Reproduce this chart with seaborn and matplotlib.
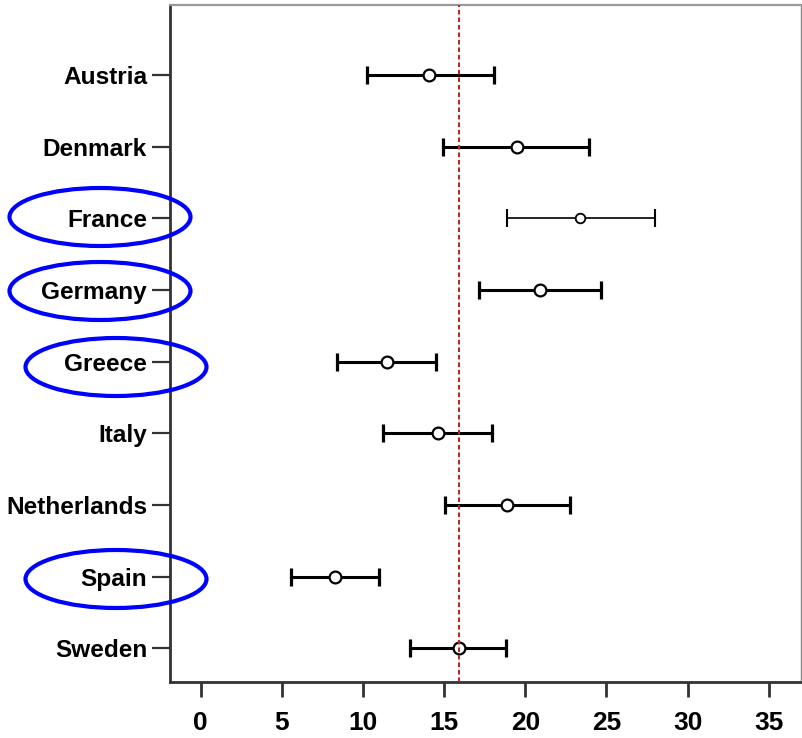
import numpy as np
import pandas as pd
import matplotlib
matplotlib.use("Agg")
import matplotlib.pyplot as plt
from matplotlib.patches import Ellipse
from matplotlib.transforms import IdentityTransform
from matplotlib import font_manager
import seaborn as sns

# dados
paises = ["Austria", "Denmark", "France", "Germany", "Greece",
          "Italy", "Netherlands", "Spain", "Sweden"]
media = [14.1, 19.5, 23.4, 20.9, 11.5, 14.6, 18.9, 8.3, 15.9]
inferior = [10.25, 14.95, 18.85, 17.15, 8.4, 11.25, 15.05, 5.6, 12.9]
superior = [18.1, 23.95, 28.0, 24.65, 14.5, 17.95, 22.75, 11.0, 18.8]
linha_ref = 15.9
destacados = ["France", "Germany", "Greece", "Spain"]

dados = pd.DataFrame({"pais": paises, "media": media,
                      "inf": inferior, "sup": superior})
dados["pos"] = np.arange(len(dados))

sns.set_style("white")
nomes = {f.name for f in font_manager.fontManager.ttflist}
plt.rcParams["font.family"] = ["Liberation Sans", "DejaVu Sans"]
fonte_x = "Liberation Sans Narrow" if "Liberation Sans Narrow" in nomes else "Liberation Sans"

fig = plt.figure(figsize=(8.02, 7.38), dpi=100)
ax = fig.add_axes([170 / 802, 56 / 738, 631 / 802, 677 / 738])

# barras de erro (France mais fina)
for _, r in dados.iterrows():
    fino = r["pais"] == "France"
    ax.errorbar(r["media"], r["pos"],
                xerr=[[r["media"] - r["inf"]], [r["sup"] - r["media"]]],
                fmt="none", ecolor="black",
                elinewidth=1.2 if fino else 2.2,
                capsize=6.5, capthick=1.5 if fino else 2.3, zorder=2)

# marcadores
grandes = dados[dados["pais"] != "France"]
sns.scatterplot(data=grandes, x="media", y="pos", ax=ax, marker="o",
                s=72, facecolor="white", edgecolor="black", linewidth=1.6,
                zorder=3, legend=False)
sns.scatterplot(data=dados[dados["pais"] == "France"], x="media", y="pos",
                ax=ax, marker="o", s=48, facecolor="white",
                edgecolor="black", linewidth=1.3, zorder=3, legend=False)

# linha de referência por cima dos marcadores
ax.axvline(linha_ref, color="#b52a2a", lw=1.5, dashes=(2.2, 1.4), zorder=4)

ax.set_xlim(-1.88, 36.98)
ax.set_ylim(8.47, -0.98)
ax.set_xticks(np.arange(0, 36, 5))
ax.set_yticks(dados["pos"])
ax.set_yticklabels(paises)
ax.set_xlabel("")
ax.set_ylabel("")

for lbl in ax.get_yticklabels():
    lbl.set_fontweight("bold")
    lbl.set_fontsize(17.6)
for lbl in ax.get_xticklabels():
    lbl.set_fontweight("bold")
    lbl.set_fontsize(19)
    lbl.set_family([fonte_x, "DejaVu Sans"])

ax.tick_params(axis="y", length=13, width=1.6, color="#333333", pad=3.5,
               left=True, labelcolor="black")
ax.tick_params(axis="x", length=11, width=2.0, color="#333333", pad=10,
               bottom=True, labelcolor="black")

ax.spines["left"].set_color("#333333")
ax.spines["left"].set_linewidth(2.0)
ax.spines["bottom"].set_color("#333333")
ax.spines["bottom"].set_linewidth(2.0)
ax.spines["top"].set_color("#999999")
ax.spines["top"].set_linewidth(1.6)
ax.spines["right"].set_color("#888888")
ax.spines["right"].set_linewidth(1.0)

# elipses azuis em volta dos países destacados (pixels da figura)
elipses = {"France": (100, 217), "Germany": (100, 291),
           "Greece": (116, 367), "Spain": (116, 579)}
for p in destacados:
    cx, cy = elipses[p]
    e = Ellipse((cx, 738 - cy), 181, 58, transform=IdentityTransform(),
                fill=False, edgecolor="#0000ff", lw=3.0, clip_on=False,
                zorder=10)
    fig.add_artist(e)

fig.savefig("out.png", dpi=100)
